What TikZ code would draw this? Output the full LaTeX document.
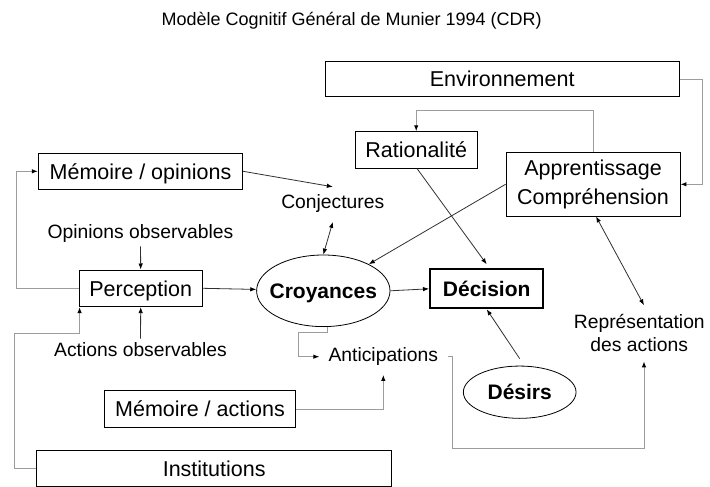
\documentclass[tikz,border=0pt]{standalone}
\usepackage{fontspec}
\setmainfont{Liberation Sans}
\usetikzlibrary{arrows.meta,shapes.geometric,calc}
\newcommand\boxfont{\fontsize{21.5}{28.3}\selectfont}
\newcommand\bolfont{\fontsize{21}{26}\selectfont\bfseries}
\newcommand\labfont{\fontsize{19.3}{23.3}\selectfont}
\newcommand\headfont{\fontsize{18}{22}\selectfont}
\definecolor{linkdark}{HTML}{303030}
\definecolor{linkgray}{HTML}{9C9C9C}
\begin{document}
\begin{tikzpicture}[x=1pt,y=-1pt,
  box/.style={draw=black,line width=0.9pt,inner sep=0pt,font=\boxfont,align=center},
  oneline/.style={text height=15.4pt,text depth=0pt},
  oval/.style={ellipse,draw=black,line width=0.8pt,inner sep=0pt,font=\bolfont,text height=15.2pt,text depth=0pt},
  lab/.style={inner sep=1pt,font=\labfont,align=center},
  link/.style={draw=linkdark,line width=0.8pt},
  loop/.style={draw=linkgray,line width=1pt},
  arr/.style={-{Latex[length=6pt,width=4.5pt,color=black]}},
  arrboth/.style={{Latex[length=6pt,width=4.5pt,color=black]}-{Latex[length=6pt,width=4.5pt,color=black]}}]
\useasboundingbox (0,0) rectangle (710,487);

% title
\node[lab,font=\headfont] (title) at (351.7,21) {Modèle Cognitif Général de Munier 1994 (CDR)};

% boxes, ovals and free labels
\node[box,oneline,minimum width=354.3pt,minimum height=35pt] (env) at (502.2,79.2) {Environnement};
\node[box,oneline,minimum width=122.3pt,minimum height=36.6pt] (rat) at (416.2,150) {Rationalité};
\node[box,minimum width=174pt,minimum height=63.3pt] (app) at (593,184.3) {Apprentissage\\Compréhension};
\node[box,oneline,minimum width=204.4pt,minimum height=36pt] (memop) at (140.5,171.3) {Mémoire / opinions};
\node[lab] (conj) at (332.8,204) {Conjectures};
\node[lab] (opobs) at (140.5,233.3) {Opinions observables};
\node[box,oneline,minimum width=123.3pt,minimum height=36.7pt] (perc) at (140.7,288.3) {Perception};
\node[oval,inner xsep=-10pt,minimum width=133.4pt,minimum height=71.6pt] (croy) at (323.3,290.8) {Croyances};
\node[box,oneline,line width=2pt,font=\bolfont,text height=15.2pt,minimum width=113.3pt,minimum height=39pt] (dec) at (486.7,288.8) {Décision};
\node[lab] (repr) at (639.3,333.3) {Représentation\\des actions};
\node[lab] (actobs) at (140.5,350) {Actions observables};
\node[lab] (antic) at (383.3,356.7) {Anticipations};
\node[oval,minimum width=112.7pt,minimum height=52.3pt] (des) at (519.7,392.2) {Désirs};
\node[box,oneline,minimum width=191.4pt,minimum height=36.6pt] (memact) at (200,409) {Mémoire / actions};
\node[box,oneline,minimum width=355pt,minimum height=36pt] (inst) at (214.2,468.7) {Institutions};

\coordinate (ltop) at (0,110);

% feedback loops (light)
\draw[loop,arr] (perc.west) -- ++(-61.7,0) |- (memop.west);
\draw[loop,arr] (inst.west) -- ++(-21.7,0) |- ([xshift=1pt,yshift=-26.6pt]perc.south west) -- ([xshift=1pt]perc.south west);
\draw[loop,arr] (env.east) -- ++(23,0) |- (app.east);
\draw[loop,arr] (app.north) |- (rat.north |- ltop) -- (rat.north);
\draw[loop,arr] ([xshift=4pt]croy.south) -- ++(0,5) -- ++(-29,0) |- ([xshift=-8pt]antic.west);
\draw[loop,arr] (memact.east) -| ([yshift=-8pt]antic.south);
\draw[loop,arr] ([xshift=9pt]antic.east) -- ++(4,0) -- ++(0,91.6) -| ([xshift=4.7pt,yshift=-8pt]repr.south);

% main links
\draw[link,arr,shorten <=3pt] (opobs.south) -- (perc.north);
\draw[link,arr,shorten <=3pt] (actobs.north) -- (perc.south);
\draw[link,arr] (perc.east) -- (croy);
\draw[link,arr] (memop.east) -- ([yshift=7pt]conj.north);
\draw[link,arrboth] ([yshift=-7.7pt]conj.south) -- (croy.north);
\draw[link,arr] (app.west) -- (croy);
\draw[link,arr] ([xshift=1pt]rat.south) -- ([yshift=4pt]dec.north);
\draw[link,arr] (croy.east) -- (dec.west);
\draw[link,arr] ([yshift=7pt]des.north) -- (dec.south);
\draw[link,arrboth] ([xshift=3pt]app.south) -- ([xshift=4.7pt,yshift=8pt]repr.north);
\end{tikzpicture}
\end{document}
